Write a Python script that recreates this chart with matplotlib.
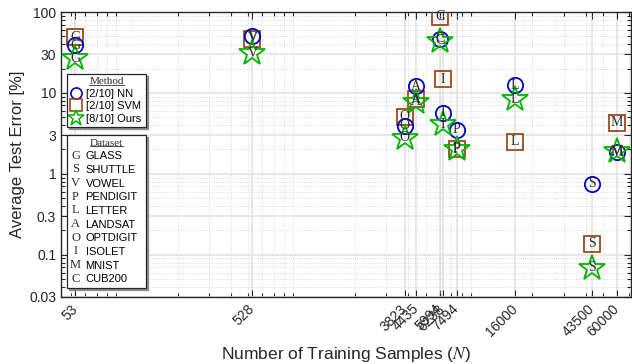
import numpy as np
import matplotlib
matplotlib.use("Agg")
import matplotlib.pyplot as plt
import matplotlib.transforms as mtransforms
from matplotlib.lines import Line2D
from matplotlib.text import Text
from matplotlib.legend_handler import HandlerBase
from matplotlib.ticker import FixedLocator, LogLocator, NullFormatter

plt.rcParams['font.family'] = ['Liberation Sans', 'DejaVu Sans']
plt.rcParams['mathtext.fontset'] = 'stix'

# datasets: letter, name, number of training samples
letters = ['G', 'S', 'V', 'P', 'L', 'A', 'O', 'I', 'M', 'C']
names = ['GLASS', 'SHUTTLE', 'VOWEL', 'PENDIGIT', 'LETTER', 'LANDSAT',
         'OPTDIGIT', 'ISOLET', 'MNIST', 'CUB200']
n_train = [53, 43500, 528, 7494, 16000, 4435, 3823, 6238, 60000, 5994]

# average test error [%] per method
err_nn = [39, 0.75, 50, 3.5, 12.4, 12.1, 3.9, 5.7, 1.85, 47]
err_svm = [49, 0.136, 47, 2.0, 2.5, 8.4, 5.1, 14.8, 4.3, 87]
err_ours = [27, 0.069, 31, 2.05, 8.3, 7.8, 2.8, 4.1, 1.9, 44]

method_labels = ['[2/10] NN', '[2/10] SVM', '[8/10] Ours']

xticks = [53, 528, 3823, 4435, 5994, 6238, 7494, 16000, 43500, 60000]
yticks = [0.03, 0.1, 0.3, 1, 3, 10, 30, 100]

c_nn = '#0000cc'
c_svm = '#9c4a1a'
c_ours = '#00b400'
c_txt = '#2a2a2a'

fig = plt.figure(figsize=(6.32, 3.64), dpi=100)
ax = fig.add_axes([61 / 632, 67 / 364, 570 / 632, 285 / 364])

ax.set_xscale('log')
ax.set_yscale('log')

ax.plot(n_train, err_svm, 's', ms=11, mfc='none', mec=c_svm, mew=1.3, zorder=3)
ax.plot(n_train, err_nn, 'o', ms=11, mfc='none', mec=c_nn, mew=1.3, zorder=4)
ax.plot(n_train, err_ours, '*', ms=19, mfc='none', mec=c_ours, mew=1.3, zorder=5)

for errs in (err_svm, err_nn, err_ours):
    for n, e, l in zip(n_train, errs, letters):
        ax.text(n, e, l, ha='center', va='center', fontsize=10,
                family='Liberation Serif', color=c_txt, zorder=6)

ax.set_xlim(44, 72000)
ax.set_ylim(0.03, 100)

ax.xaxis.set_major_locator(FixedLocator(xticks))
ax.xaxis.set_minor_locator(LogLocator(base=10, subs=np.arange(2, 10)))
ax.xaxis.set_minor_formatter(NullFormatter())
ax.set_xticklabels([str(t) for t in xticks], rotation=45, ha='right',
                   rotation_mode='anchor', va='center')
# shift the rotated labels a little to the right, as in the original
offset = mtransforms.ScaledTranslation(6 / 100, 0, fig.dpi_scale_trans)
for lab in ax.get_xticklabels():
    lab.set_transform(lab.get_transform() + offset)
ax.yaxis.set_major_locator(FixedLocator(yticks))
ax.yaxis.set_minor_locator(LogLocator(base=10, subs=np.arange(2, 10)))
ax.yaxis.set_minor_formatter(NullFormatter())
ax.set_yticklabels([('%g' % t) for t in yticks])

ax.tick_params(which='both', direction='in', top=True, right=True,
               labelsize=10, colors='#262626', width=0.8)
ax.tick_params(which='major', length=5)
ax.tick_params(axis='x', which='major', pad=7)
ax.tick_params(which='minor', length=3)

ax.grid(True, which='major', color='#e3e3e3', lw=1.2, ls='-', zorder=0)
ax.grid(True, which='minor', color='#d0d0d0', lw=0.6, ls=':', zorder=0)
ax.set_axisbelow(True)
for sp in ax.spines.values():
    sp.set_color('#262626')
    sp.set_linewidth(1.0)

ax.set_ylabel('Average Test Error [%]', fontsize=12, color='#262626', labelpad=3)
ax.set_xlabel('Number of Training Samples ($N$)', fontsize=12.5, color='#262626',
              labelpad=4)


class LetterHandler(HandlerBase):
    def __init__(self, letter):
        super().__init__()
        self.letter = letter

    def create_artists(self, legend, orig_handle, xdescent, ydescent, width,
                       height, fontsize, trans):
        t = Text(width / 2 - xdescent, height / 2 - ydescent, self.letter,
                 ha='center', va='center', fontsize=9,
                 family='Liberation Serif', color=c_txt, transform=trans)
        return [t]


shadow = {'ox': 1.5, 'oy': -1.5, 'color': '0.55', 'alpha': 1}
leg_x, leg_w = 0.011, 0.138

m_handles = [
    Line2D([], [], ls='none', marker='o', ms=8, mfc='none', mec=c_nn, mew=1.2),
    Line2D([], [], ls='none', marker='s', ms=8, mfc='none', mec=c_svm, mew=1.2),
    Line2D([], [], ls='none', marker='*', ms=12, mfc='none', mec=c_ours, mew=1.1),
]
leg1 = ax.legend(m_handles, method_labels, loc='upper left',
                 bbox_to_anchor=(leg_x, 0.4, leg_w, 0.382), mode='expand',
                 fontsize=8, title='Method',
                 title_fontproperties={'family': 'Liberation Serif', 'size': 8},
                 frameon=True, fancybox=False, edgecolor='#262626',
                 framealpha=1, shadow=shadow, handlelength=0.9,
                 handletextpad=0.45, labelspacing=0.22, borderpad=0.3,
                 borderaxespad=0)
leg1.get_frame().set_linewidth(0.9)
leg1.get_title().set_color(c_txt)
ax.add_artist(leg1)

d_handles = [Line2D([], []) for _ in letters]
leg2 = ax.legend(d_handles, names, loc='upper left',
                 bbox_to_anchor=(leg_x, 0.0, leg_w, 0.567), mode='expand',
                 fontsize=8, title='Dataset',
                 title_fontproperties={'family': 'Liberation Serif', 'size': 8},
                 handler_map={h: LetterHandler(l) for h, l in zip(d_handles, letters)},
                 frameon=True, fancybox=False, edgecolor='#262626',
                 framealpha=1, shadow=shadow, handlelength=0.9,
                 handletextpad=0.45, labelspacing=0.33, borderpad=0.3,
                 borderaxespad=0)
leg2.get_frame().set_linewidth(0.9)
leg2.get_title().set_color(c_txt)

# underline the legend titles
fig.canvas.draw()
inv = fig.transFigure.inverted()
for lg in (leg1, leg2):
    bb = lg.get_title().get_window_extent()
    (x0, y0), (x1, y1) = inv.transform([[bb.x0, bb.y0], [bb.x1, bb.y1]])
    fig.add_artist(Line2D([x0, x1], [y0 + 0.004, y0 + 0.004], color=c_txt,
                          lw=0.6, transform=fig.transFigure, zorder=10))

fig.savefig('out.png', dpi=100)
